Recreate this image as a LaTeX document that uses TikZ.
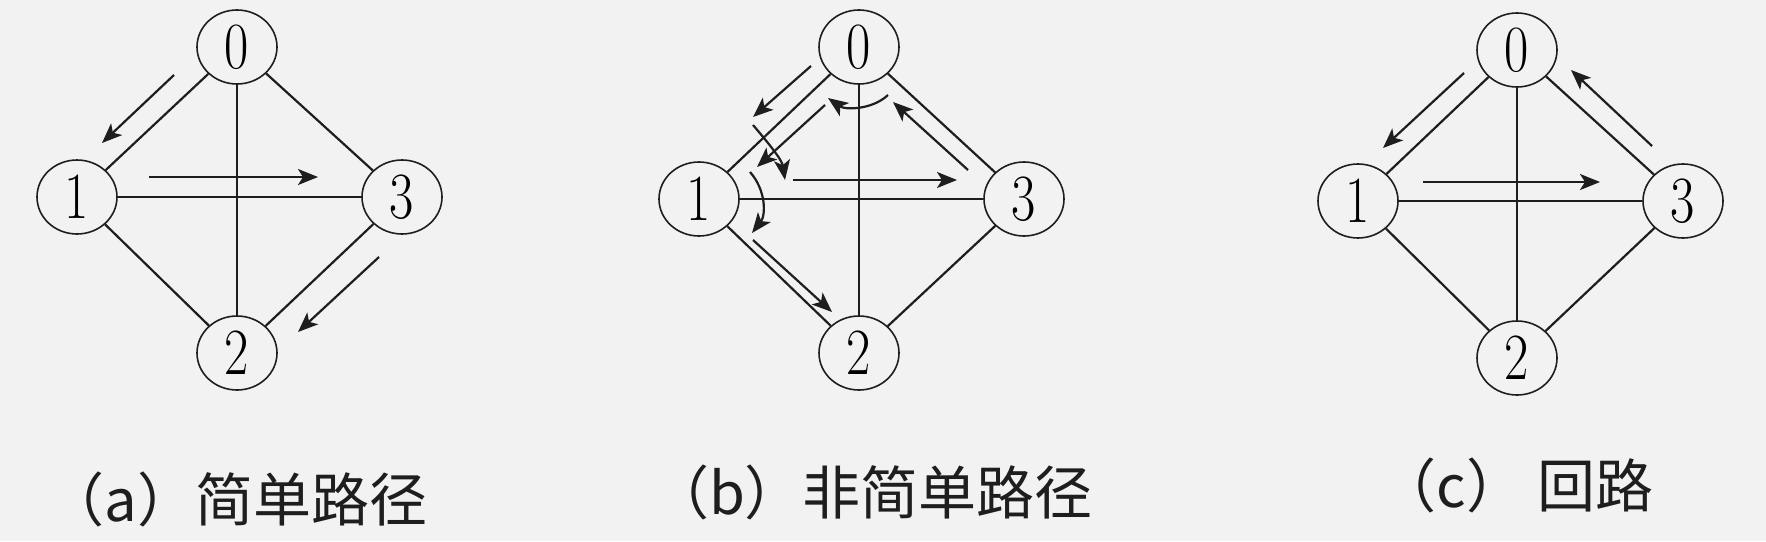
\documentclass[tikz,border=0pt]{standalone}
\usepackage{fontspec}
\usepackage{graphicx}
\newfontfamily\cjk{Noto Sans CJK SC}
\usetikzlibrary{arrows.meta,shapes.geometric}
\definecolor{bg}{HTML}{F2F2F2}
\definecolor{ink}{HTML}{1E1E1E}
\newcommand\dg[1]{\scalebox{0.8}[1]{#1}}
\begin{document}
\begin{tikzpicture}[x=0.5pt,y=-0.5pt,
  vtx/.style={draw=ink,line width=0.8pt,ellipse,minimum width=40pt,minimum height=37pt,inner sep=0pt,font=\fontsize{33}{33}\selectfont},
  edge/.style={draw=ink,line width=1.1pt},
  walk/.style={draw=ink,line width=1.1pt,-{Stealth[length=10pt,width=8pt,inset=2.5pt]}},
  captext/.style={font=\cjk\fontsize{29}{29}\selectfont,inner sep=0pt,text=ink}
]
\fill[bg] (0,0) rectangle (1766,541);
\useasboundingbox (0,0) rectangle (1766,541);

% ---------- (a) ----------
\node[vtx] (a0) at (237,47) {\dg{0}};
\node[vtx] (a1) at (77,197) {\dg{1}};
\node[vtx] (a3) at (402,197) {\dg{3}};
\node[vtx] (a2) at (237,353) {\dg{2}};
\draw[edge] (a0) -- (a1);
\draw[edge] (a0) -- (a3);
\draw[edge] (a0) -- (a2);
\draw[edge] (a1) -- (a3);
\draw[edge] (a1) -- (a2);
\draw[edge] (a3) -- (a2);
\coordinate (pa1s) at (174,75);  \coordinate (pa1e) at (102,143);
\coordinate (pa2s) at (149,177); \coordinate (pa2e) at (318,177);
\coordinate (pa3s) at (379,257); \coordinate (pa3e) at (298,332);
\draw[walk] (pa1s) -- (pa1e);
\draw[walk] (pa2s) -- (pa2e);
\draw[walk] (pa3s) -- (pa3e);
\node[captext] (capa) at (237,499) {（a）简单路径};

% ---------- (b) ----------
\node[vtx] (b0) at (859,47) {\dg{0}};
\node[vtx] (b1) at (699,199) {\dg{1}};
\node[vtx] (b3) at (1024,199) {\dg{3}};
\node[vtx] (b2) at (859,353) {\dg{2}};
\draw[edge] (b0) -- (b1);
\draw[edge] (b0) -- (b3);
\draw[edge] (b0) -- (b2);
\draw[edge] (b1) -- (b3);
\draw[edge] (b1) -- (b2);
\draw[edge] (b3) -- (b2);
\coordinate (pb1s) at (811,66);  \coordinate (pb1e) at (753,117);
\coordinate (cb1s) at (753,125); \coordinate (cb1e) at (785,180);
\coordinate (pb2s) at (793,180); \coordinate (pb2e) at (957,180);
\coordinate (pb3s) at (968,170); \coordinate (pb3e) at (893,102);
\coordinate (cb2s) at (888,95);  \coordinate (cb2e) at (828,98);
\coordinate (pb4s) at (825,105); \coordinate (pb4e) at (757,167);
\coordinate (cb3s) at (750,172); \coordinate (cb3e) at (752,233);
\coordinate (pb5s) at (753,240); \coordinate (pb5e) at (832,312);
\draw[walk] (pb1s) -- (pb1e);
\draw[walk] (cb1s) .. controls (770,145) and (782,160) .. (cb1e);
\draw[walk] (pb2s) -- (pb2e);
\draw[walk] (pb3s) -- (pb3e);
\draw[walk] (cb2s) .. controls (872,110) and (845,110) .. (cb2e);
\draw[walk] (pb4s) -- (pb4e);
\draw[walk] (cb3s) .. controls (766,190) and (766,215) .. (cb3e);
\draw[walk] (pb5s) -- (pb5e);
\node[captext] (capb) at (872,492) {（b）非简单路径};

% ---------- (c) ----------
\node[vtx] (c0) at (1517,50) {\dg{0}};
\node[vtx] (c1) at (1358,201) {\dg{1}};
\node[vtx] (c3) at (1683,201) {\dg{3}};
\node[vtx] (c2) at (1517,358) {\dg{2}};
\draw[edge] (c0) -- (c1);
\draw[edge] (c0) -- (c3);
\draw[edge] (c0) -- (c2);
\draw[edge] (c1) -- (c3);
\draw[edge] (c1) -- (c2);
\draw[edge] (c3) -- (c2);
\coordinate (pc1s) at (1464,73);  \coordinate (pc1e) at (1383,148);
\coordinate (pc2s) at (1423,182); \coordinate (pc2e) at (1600,182);
\coordinate (pc3s) at (1652,146); \coordinate (pc3e) at (1571,70);
\draw[walk] (pc1s) -- (pc1e);
\draw[walk] (pc2s) -- (pc2e);
\draw[walk] (pc3s) -- (pc3e);
\node[captext] (capc) at (1516,485) {（c） 回路};
\end{tikzpicture}
\end{document}
